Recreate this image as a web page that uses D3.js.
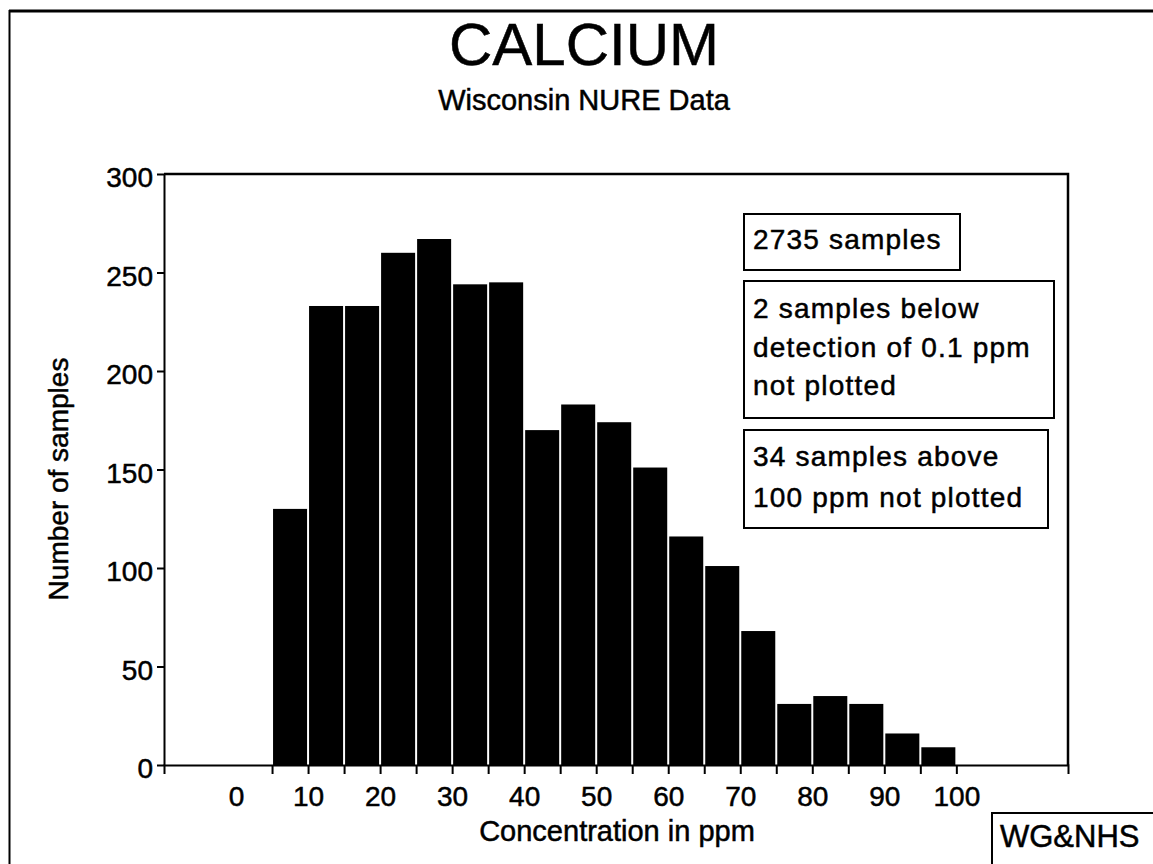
<!DOCTYPE html>
<html>
<head>
<meta charset="utf-8">
<script src="https://cdn.jsdelivr.net/npm/d3@7"></script>
<style>
  body { margin: 0; background: #fff; }
  svg text { font-family: "Liberation Sans", Arial, Helvetica, sans-serif; fill: #000; stroke: #000; stroke-width: 0.5px; }
</style>
</head>
<body>
<div id="chart"></div>
<script>
// bins of 5 ppm, lower edges
var binStarts = [5, 10, 15, 20, 25, 30, 35, 40, 45, 50, 55, 60, 65, 70, 75, 80, 85, 90, 95];
var binWidth = 5;
var counts = [130, 233, 233, 260, 267, 244, 245, 170, 183, 174, 151, 116, 101, 68, 31, 35, 31, 16, 9];

var xTickLabels = [0, 10, 20, 30, 40, 50, 60, 70, 80, 90, 100];
var xTickMarks = [5, 10, 15, 20, 25, 30, 35, 40, 45, 50, 55, 60, 65, 70, 75, 80, 85, 90, 95, 100];
var yTicks = [0, 50, 100, 150, 200, 250, 300];

var title = "CALCIUM";
var subtitle = "Wisconsin NURE Data";
var xTitle = "Concentration in ppm";
var yTitle = "Number of samples";
var notes = [
  ["2735 samples"],
  ["2 samples below", "detection of 0.1 ppm", "not plotted"],
  ["34 samples above", "100 ppm not plotted"]
];
var credit = "WG&NHS";

var width = 1153, height = 864;
var svg = d3.select("#chart").append("svg")
    .attr("width", width).attr("height", height);

var margin = {top: 174, right: 85, bottom: 99, left: 164},
    plotW = width - margin.left - margin.right,
    plotH = height - margin.top - margin.bottom;

var xScale = d3.scaleLinear().domain([-10, 115.5]).range([0, plotW]),
    yScale = d3.scaleLinear().domain([0, 300]).range([plotH, 0]);

// page border (top and left only)
svg.append("line").attr("x1", 9).attr("x2", width).attr("y1", 11).attr("y2", 11)
    .attr("stroke", "#000").attr("stroke-width", 3);
svg.append("line").attr("x1", 9.5).attr("x2", 9.5).attr("y1", 10).attr("y2", height)
    .attr("stroke", "#000").attr("stroke-width", 2);

svg.append("text").attr("x", 584).attr("y", 65)
    .attr("text-anchor", "middle").style("font-size", "60px").text(title);
svg.append("text").attr("x", 584).attr("y", 110)
    .attr("text-anchor", "middle").style("font-size", "29px").text(subtitle);

var g = svg.append("g").attr("transform", "translate(" + margin.left + "," + margin.top + ")");

g.selectAll(".bar")
  .data(binStarts)
  .enter().append("rect")
    .attr("class", "bar")
    .attr("x", function(d) { return xScale(d) + 1; })
    .attr("width", function(d) { return xScale(d + binWidth) - xScale(d) - 2; })
    .attr("y", function(d, i) { return yScale(counts[i]); })
    .attr("height", function(d, i) { return plotH - yScale(counts[i]); })
    .attr("fill", "#000");

// frame top and right
g.append("path")
    .attr("d", "M0,0H" + plotW + "V" + plotH)
    .attr("fill", "none").attr("stroke", "#000").attr("stroke-width", 2.5);

var xAxisTicks = g.append("g")
    .attr("transform", "translate(0," + plotH + ")")
    .call(d3.axisBottom(xScale).tickValues(xTickMarks).tickFormat("").tickSize(9).tickSizeOuter(9));

var xAxisLabels = g.append("g")
    .attr("transform", "translate(0," + plotH + ")")
    .call(d3.axisBottom(xScale).tickValues(xTickLabels).tickSize(0).tickPadding(21));
xAxisLabels.select(".domain").remove();

var yAxis = g.append("g")
    .call(d3.axisLeft(yScale).tickValues(yTicks).tickSize(7).tickSizeOuter(0).tickPadding(4));

[xAxisTicks, yAxis].forEach(function(a) {
  a.selectAll("path, line").attr("stroke", "#000").attr("stroke-width", 2);
});
xAxisLabels.selectAll("text").style("font-size", "28px").attr("font-family", null);
yAxis.selectAll("text").style("font-size", "28px").attr("font-family", null).attr("dy", "0.45em");

svg.append("text").attr("x", 617).attr("y", 841)
    .attr("text-anchor", "middle").style("font-size", "29px").text(xTitle);
svg.append("text")
    .attr("transform", "translate(68,479) rotate(-90)")
    .attr("text-anchor", "middle").style("font-size", "28px").text(yTitle);

// annotation boxes
var boxes = [
  {x: 744, y: 214, w: 216, h: 56, base: 249, step: 0},
  {x: 744, y: 281, w: 310, h: 137, base: 318, step: 38.5},
  {x: 744, y: 430, w: 304, h: 98, base: 466, step: 41}
];
boxes.forEach(function(b, i) {
  svg.append("rect").attr("x", b.x).attr("y", b.y).attr("width", b.w).attr("height", b.h)
      .attr("fill", "#fff").attr("stroke", "#000").attr("stroke-width", 2);
  notes[i].forEach(function(line, j) {
    svg.append("text").attr("x", b.x + 9).attr("y", b.base + j * b.step)
        .style("font-size", "28px").style("letter-spacing", "1.2px").text(line);
  });
});

svg.append("path").attr("d", "M992," + height + "V813H" + width)
    .attr("fill", "none").attr("stroke", "#000").attr("stroke-width", 2);
svg.append("text").attr("x", 1000).attr("y", 847)
    .style("font-size", "31px").text(credit);
</script>
</body>
</html>
